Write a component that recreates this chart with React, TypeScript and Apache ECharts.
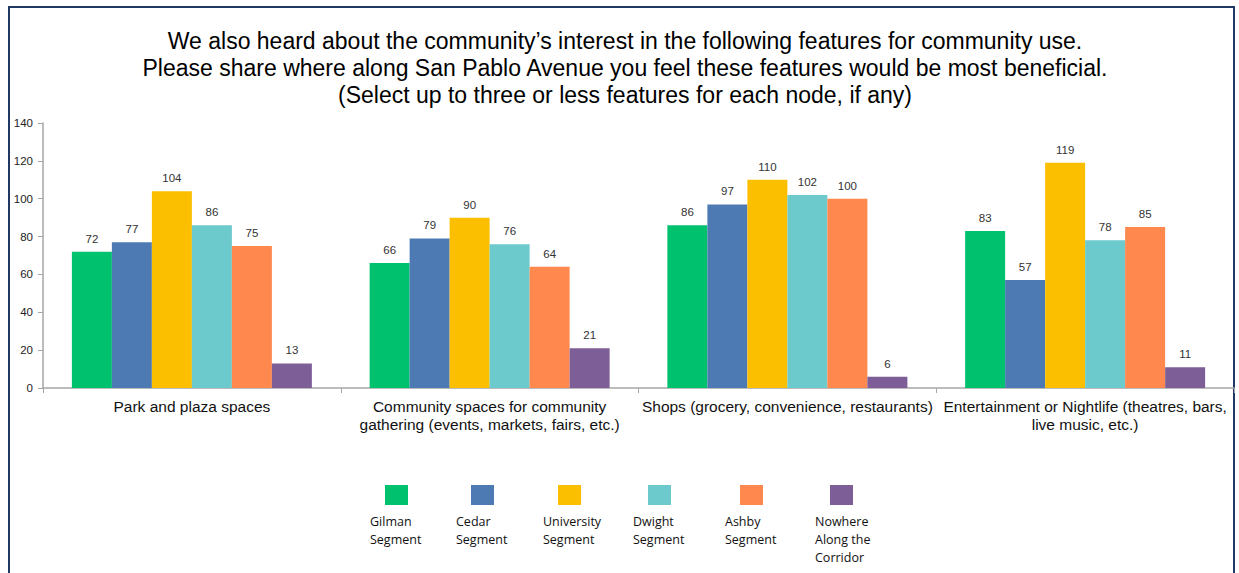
import React, { useEffect, useRef } from "react";
import * as echarts from "echarts";

const titleLines = [
  "We also heard about the community\u2019s interest in the following features for community use.",
  "Please share where along San Pablo Avenue you feel these features would be most beneficial.",
  "(Select up to three or less features for each node, if any)",
];

const categories = [
  "Park and plaza spaces",
  "Community spaces for community\ngathering (events, markets, fairs, etc.)",
  "Shops (grocery, convenience, restaurants)",
  "Entertainment or Nightlife (theatres, bars,\nlive music, etc.)",
];

const seriesNames = [
  "Gilman\nSegment",
  "Cedar\nSegment",
  "University\nSegment",
  "Dwight\nSegment",
  "Ashby\nSegment",
  "Nowhere\nAlong the\nCorridor",
];

const gilman = [72, 66, 86, 83];
const cedar = [77, 79, 97, 57];
const university = [104, 90, 110, 119];
const dwight = [86, 76, 102, 78];
const ashby = [75, 64, 100, 85];
const nowhere = [13, 21, 6, 11];

const seriesData = [gilman, cedar, university, dwight, ashby, nowhere];
const colors = ["#00C16E", "#4E7AB4", "#FBBF00", "#6CC9CC", "#FF884E", "#7E5E96"];

const yTicks = { min: 0, max: 140, interval: 20 };

export default function App() {
  const ref = useRef<HTMLDivElement>(null);
  useEffect(() => {
    document.body.style.margin = "0";
    const chart = echarts.init(ref.current!, null, { renderer: "svg" });
    const legendX = [370, 456, 543, 633, 725, 815];
    const graphics: any[] = [
      {
        type: "rect",
        shape: { x: 9, y: 7, width: 1225, height: 580 },
        style: { fill: "none", stroke: "#1F3864", lineWidth: 2 },
        silent: true,
      },
    ];
    titleLines.forEach((t, i) => {
      graphics.push({
        type: "text",
        x: 625,
        y: 29 + i * 27,
        style: {
          text: t,
          font: '23px "Liberation Sans", Arial, sans-serif',
          fill: "#000",
          align: "center",
          verticalAlign: "top",
        },
      });
    });
    seriesNames.forEach((n, i) => {
      graphics.push({
        type: "rect",
        shape: { x: legendX[i] + 15, y: 485, width: 23, height: 20 },
        style: { fill: colors[i] },
      });
      graphics.push({
        type: "text",
        x: legendX[i],
        y: 512,
        style: {
          text: n,
          font: '12.5px "Open Sans", Lato, sans-serif',
          fill: "#111",
          lineHeight: 18,
          align: "left",
        },
      });
    });
    chart.setOption({
      animation: false,
      graphic: graphics,
      grid: { left: 43, right: 5, top: 123, height: 265 },
      xAxis: {
        type: "category",
        data: categories,
        axisLine: { lineStyle: { color: "#A6A6A6", width: 1.5 } },
        axisTick: { show: true, length: 5, lineStyle: { color: "#A6A6A6" } },
        axisLabel: {
          color: "#111",
          fontSize: 15.5,
          fontFamily: '"Liberation Sans", Arial, sans-serif',
          lineHeight: 18,
          margin: 9,
          interval: 0,
        },
      },
      yAxis: {
        type: "value",
        min: yTicks.min,
        max: yTicks.max,
        interval: yTicks.interval,
        splitLine: { show: false },
        axisLine: { show: true, lineStyle: { color: "#A6A6A6", width: 1.5 } },
        axisTick: { show: true, length: 5, lineStyle: { color: "#A6A6A6" } },
        axisLabel: {
          color: "#222",
          fontSize: 11.5,
          fontFamily: '"Liberation Sans", Arial, sans-serif',
          margin: 10,
        },
      },
      series: seriesData.map((d, i) => ({
        name: seriesNames[i],
        type: "bar",
        data: d,
        barWidth: 40,
        barGap: "0%",
        itemStyle: { color: colors[i] },
        label: {
          show: true,
          position: "top",
          distance: 7,
          color: "#333",
          fontSize: 11.5,
          fontFamily: '"Liberation Sans", Arial, sans-serif',
        },
      })),
    });
    return () => chart.dispose();
  }, []);
  return <div ref={ref} style={{ width: 1239, height: 573 }} />;
}
